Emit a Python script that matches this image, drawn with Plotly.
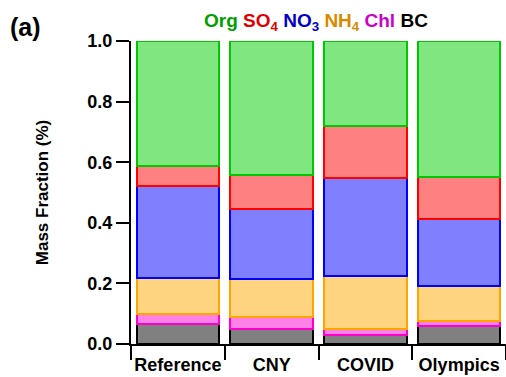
import plotly.graph_objects as go

categories = ["Reference", "CNY", "COVID", "Olympics"]
bc = [0.067, 0.048, 0.029, 0.058]
chl = [0.031, 0.040, 0.022, 0.019]
nh4 = [0.121, 0.126, 0.172, 0.113]
no3 = [0.303, 0.230, 0.325, 0.222]
so4 = [0.067, 0.114, 0.170, 0.138]
org = [0.411, 0.442, 0.282, 0.450]

series = [
    ("BC", bc, "#808080", "#000000"),
    ("Chl", chl, "#FF80E6", "#FF00CC"),
    ("NH4", nh4, "#FFD480", "#FFA500"),
    ("NO3", no3, "#8080FF", "#0000FF"),
    ("SO4", so4, "#FF8080", "#FF0000"),
    ("Org", org, "#80E680", "#00C800"),
]

FONT = "Liberation Sans"

fig = go.Figure()
for name, vals, fill, line in series:
    fig.add_trace(go.Bar(
        x=categories, y=vals, name=name,
        marker=dict(color=fill, line=dict(color=line, width=2)),
        showlegend=False,
    ))

fig.update_layout(
    barmode="stack",
    bargap=0.12,
    width=506, height=377,
    margin=dict(l=131, r=0, t=41, b=33),
    paper_bgcolor="white", plot_bgcolor="white",
    font=dict(family=FONT, size=17, color="black", weight="bold"),
)

fig.update_xaxes(
    showline=True, linecolor="black", linewidth=2,
    ticks="outside", tickson="boundaries", ticklen=14, tickwidth=2, tickcolor="black",
    tickfont=dict(family=FONT, size=18, color="black", weight="bold"),
    tickangle=0, automargin=False,
    ticklabelstandoff=3,
    showgrid=False, zeroline=False, range=[-0.5, 3.5],
)
fig.update_yaxes(
    range=[0, 1.0],
    tickvals=[0, 0.2, 0.4, 0.6, 0.8, 1.0],
    ticktext=["0.0", "0.2", "0.4", "0.6", "0.8", "1.0"],
    showline=True, linecolor="black", linewidth=2,
    ticks="outside", ticklen=13, tickwidth=2, tickcolor="black",
    tickfont=dict(family=FONT, size=18, color="black", weight="bold"),
    automargin=False,
    showgrid=False, zeroline=False,
    title=dict(text="Mass Fraction (%)", font=dict(family=FONT, size=17, color="black", weight="bold"), standoff=34),
)

legend_text = (
    "<span style='color:#00A000'>Org</span> "
    "<span style='color:#E00000'>SO<sub>4</sub></span> "
    "<span style='color:#0000C8'>NO<sub>3</sub></span> "
    "<span style='color:#D88A00'>NH<sub>4</sub></span> "
    "<span style='color:#CC00CC'>Chl</span> "
    "<span style='color:#000000'>BC</span>"
)
fig.add_annotation(
    text=legend_text, xref="paper", yref="paper",
    x=0.492, y=1.063, xanchor="center", yanchor="middle", showarrow=False,
    font=dict(family=FONT, size=19, color="black", weight="bold"),
)
fig.add_annotation(
    text="(a)", xref="paper", yref="paper",
    x=-0.328, y=1.046, xanchor="left", yanchor="middle", showarrow=False,
    font=dict(family=FONT, size=25, color="black", weight="bold"),
)

fig.write_html("out.html")
